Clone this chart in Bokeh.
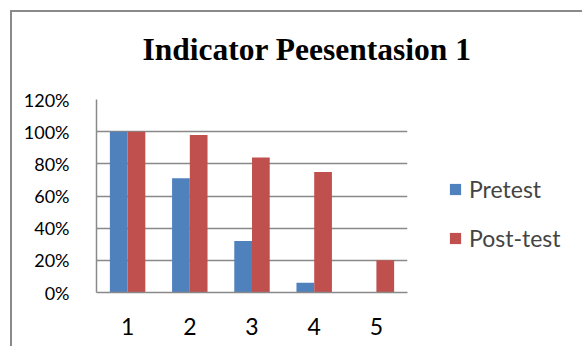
from bokeh.plotting import figure
from bokeh.models import (FactorRange, Range1d, NumeralTickFormatter, FixedTicker,
                          Legend, LegendItem, ColumnDataSource)
from bokeh.transform import dodge
from bokeh.embed import file_html
from bokeh.resources import INLINE

# ---- data ----
categories = ["1", "2", "3", "4", "5"]
pretest = [1.00, 0.71, 0.32, 0.06, 0.00]
posttest = [1.00, 0.98, 0.84, 0.75, 0.20]
series_names = ["Pretest", "Post-test"]
y_ticks = [0, 0.2, 0.4, 0.6, 0.8, 1.0, 1.2]
title_text = "Indicator Peesentasion 1"

BLUE = "#4F81BD"
RED = "#C0504D"
GRID = "#898989"
EDGE = "#8a8a8a"

src = ColumnDataSource(dict(cat=categories, pre=pretest, post=posttest))

p = figure(x_range=FactorRange(*categories, range_padding=0),
           y_range=Range1d(0, 1.2),
           frame_width=311, frame_height=193,
           min_border_left=96, min_border_right=167,
           min_border_top=99, min_border_bottom=54,
           output_backend="svg", toolbar_location=None,
           title=title_text)

# outer chart-area border (left and top edges visible in the crop)
p.styles = {
    "background-color": "white",
    "background-image": f"linear-gradient({EDGE}, {EDGE}), linear-gradient({EDGE}, {EDGE})",
    "background-size": "2px 100%, 100% 2px",
    "background-position": "10px 10px, 10px 10px",
    "background-repeat": "no-repeat",
}

p.title.text_font = "Liberation Serif"
p.title.text_font_style = "bold"
p.title.text_font_size = "31.5px"
p.title.text_color = "black"
p.title.align = "left"
p.title.offset = 46
p.title.vertical_align = "top"
p.title.standoff = 61

r1 = p.vbar(x=dodge("cat", -0.1425, range=p.x_range), top="pre", width=0.285,
            source=src, fill_color=BLUE, line_color=None)
r2 = p.vbar(x=dodge("cat", 0.1425, range=p.x_range), top="post", width=0.285,
            source=src, fill_color=RED, line_color=None)

p.outline_line_color = None
p.background_fill_color = "white"
p.border_fill_color = None

p.yaxis.ticker = FixedTicker(ticks=y_ticks)
p.yaxis.formatter = NumeralTickFormatter(format="0%")
p.yaxis.major_label_text_font = "Lato"
p.yaxis.major_label_text_font_size = "18px"
p.yaxis.major_label_text_color = "black"
p.yaxis.major_label_standoff = 21
p.yaxis.axis_line_color = GRID
p.yaxis.axis_line_width = 1.5
p.yaxis.major_tick_line_color = None
p.yaxis.minor_tick_line_color = None

p.xaxis.major_label_text_font = "Lato"
p.xaxis.major_label_text_font_size = "23px"
p.xaxis.major_label_text_color = "black"
p.xaxis.major_label_standoff = 19
p.xaxis.axis_line_color = GRID
p.xaxis.axis_line_width = 1.5
p.xaxis.major_tick_line_color = None
p.xaxis.minor_tick_line_color = None

p.xgrid.grid_line_color = None
p.ygrid.ticker = FixedTicker(ticks=y_ticks)
p.ygrid.grid_line_color = GRID
p.ygrid.grid_line_width = 1.5

legend = Legend(items=[LegendItem(label=series_names[0], renderers=[r1]),
                       LegendItem(label=series_names[1], renderers=[r2])],
                location=(41, 40), padding=0, margin=0, spacing=21,
                glyph_width=14, glyph_height=14, label_standoff=7,
                label_text_font="Lato", label_text_font_size="23px",
                border_line_color=None, background_fill_alpha=0)
p.add_layout(legend, "right")

open("out.html", "w").write(file_html(p, INLINE))
